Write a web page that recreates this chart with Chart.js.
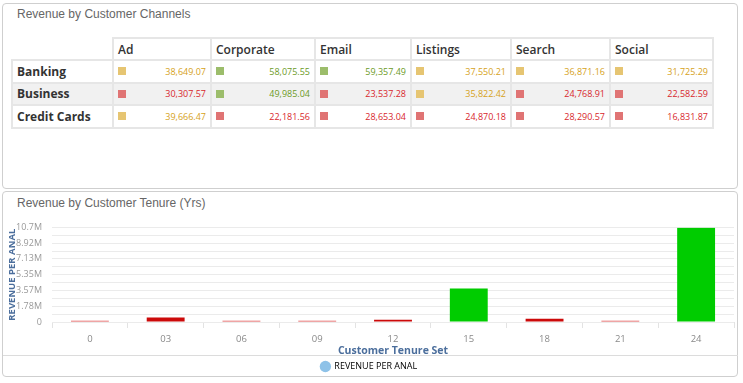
<!DOCTYPE html>
<html>
<head>
<meta charset="utf-8">
<script src="https://cdn.jsdelivr.net/npm/chart.js@4.4.1/dist/chart.umd.min.js"></script>
<style>
  html, body { margin:0; padding:0; background:#fff; width:743px; height:383px; overflow:hidden; }
  .panel { position:absolute; left:2px; width:736px; border:1px solid #cfcfcf; border-radius:4px; background:#fff; box-sizing:border-box; }
  #p1 { top:3px; height:186px; }
  #p2 { top:191px; height:186px; }
  .ptitle { position:absolute; left:14px; font-family:"Liberation Sans", Arial, sans-serif; font-size:12px; color:#666; }
  #t1 { top:3px; }
  #t2 { top:4px; }
  table { position:absolute; left:11px; top:37px; border-collapse:collapse; font-family:"Open Sans", sans-serif; table-layout:fixed; }
  td, th { border:2px solid #e6e6e6; padding:0 4px; box-sizing:border-box; }
  th { text-align:left; font-weight:600; font-size:12px; color:#333; height:22px; }
  th.blank { border:none; }
  td { height:22.5px; }
  td.lab { font-weight:700; font-size:12px; color:#333; }
  tr.alt td { background:#f1f1f1; }
  td.val { font-size:9px; text-align:right; position:relative; }
  td.val span.sq { position:absolute; left:4px; top:6px; width:8px; height:8px; }
  #sep { position:absolute; left:3px; top:355px; width:735px; height:1px; background:#dcdcdc; }
  #cwrap { position:absolute; left:4px; top:212px; width:734px; height:169px; }
</style>
</head>
<body>
<div class="panel" id="p1"><div class="ptitle" id="t1">Revenue by Customer Channels</div></div>
<div class="panel" id="p2"><div class="ptitle" id="t2">Revenue by Customer Tenure (Yrs)</div></div>
<table id="tbl"></table>
<div id="sep"></div>
<div id="cwrap"><canvas id="c"></canvas></div>
<script>
// ---- Table data ----
const channels = ["Ad", "Corporate", "Email", "Listings", "Search", "Social"];
const segments = ["Banking", "Business", "Credit Cards"];
const banking = [38649.07, 58075.55, 59357.49, 37550.21, 36871.16, 31725.29];
const business = [30307.57, 49985.04, 23537.28, 35822.42, 24768.91, 22582.59];
const creditCards = [39666.47, 22181.56, 28653.04, 24870.18, 28290.57, 16831.87];

// ---- Bar chart data ----
const tenure = ["0", "03", "06", "09", "12", "15", "18", "21", "24"];
const revenuePerAnal = [150000, 510000, 150000, 150000, 260000, 3790000, 370000, 150000, 10650000];
const yTickLabels = ["0", "1.78M", "3.57M", "5.35M", "7.13M", "8.92M", "10.7M"];
const yMax = 10700000;
const seriesName = "REVENUE PER ANAL";

// build table
const colW = [101, 98, 104, 96, 100, 99, 103];
function tone(v) {
  if (v >= 45000) return { sq: "#9cbd6b", tx: "#6c9a1f" };
  if (v >= 31000) return { sq: "#e6c572", tx: "#d6a219" };
  return { sq: "#e07474", tx: "#d8262c" };
}
const tbl = document.getElementById("tbl");
let html = "<colgroup>" + colW.map(w => `<col style="width:${w}px">`).join("") + "</colgroup>";
html += "<tr><th class='blank'></th>" + channels.map(c => `<th>${c}</th>`).join("") + "</tr>";
const rows = [banking, business, creditCards];
rows.forEach((r, i) => {
  html += `<tr class="${i === 1 ? 'alt' : ''}"><td class="lab">${segments[i]}</td>`;
  r.forEach(v => {
    const t = tone(v);
    const s = v.toLocaleString("en-US", { minimumFractionDigits: 2, maximumFractionDigits: 2 });
    html += `<td class="val" style="color:${t.tx}"><span class="sq" style="background:${t.sq}"></span>${s}</td>`;
  });
  html += "</tr>";
});
tbl.innerHTML = html;

// bar colours by magnitude
function barColor(v) {
  if (v >= 1000000) return "#00cc00";
  if (v >= 200000) return "#cc0a0a";
  return "#e04c4c";
}

new Chart(document.getElementById("c"), {
  type: "bar",
  data: {
    labels: tenure,
    datasets: [{
      label: seriesName,
      data: revenuePerAnal,
      backgroundColor: revenuePerAnal.map(barColor),
      borderWidth: 0,
      barPercentage: 0.5,
      categoryPercentage: 1.0
    }]
  },
  options: {
    responsive: true,
    maintainAspectRatio: false,
    animation: false,
    layout: { padding: { left: 0, right: 4, top: 5, bottom: 0 } },
    plugins: {
      tooltip: { enabled: false },
      legend: {
        position: "bottom",
        labels: {
          usePointStyle: true,
          pointStyle: "circle",
          boxHeight: 8,
          padding: 3,
          color: "#555",
          font: { family: "Open Sans", size: 9 },
          generateLabels: (chart) => [{
            text: seriesName, fillStyle: "#8ec2e8", strokeStyle: "#8ec2e8",
            lineWidth: 0, pointStyle: "circle", hidden: false, datasetIndex: 0
          }]
        }
      }
    },
    scales: {
      x: {
        grid: { offset: true, drawOnChartArea: false, drawTicks: true, tickLength: 6, color: "#e3e3e3" },
        border: { display: false },
        ticks: { color: "#8a8a8a", font: { family: "Open Sans", size: 9.5 }, padding: 6, maxRotation: 0 },
        title: { display: true, text: "Customer Tenure Set", color: "#4b6e9c",
                 font: { family: "Open Sans", size: 10.5, weight: "bold" }, padding: { top: -7, bottom: 2 } }
      },
      y: {
        min: 0, max: yMax,
        afterFit: (s) => { s.width = 48; },
        grid: { color: "#ebebeb", drawTicks: false },
        border: { display: false },
        ticks: {
          count: 13,
          autoSkip: false,
          padding: 10,
          color: "#999",
          font: { family: "Open Sans", size: 9 },
          callback: (v, i) => (i % 2 === 0 ? yTickLabels[i / 2] : "")
        },
        title: { display: true, text: seriesName, color: "#4b6e9c",
                 font: { family: "Open Sans", size: 9.5, weight: "bold" }, padding: { top: 3, bottom: 0 } }
      }
    }
  }
});
</script>
</body>
</html>
